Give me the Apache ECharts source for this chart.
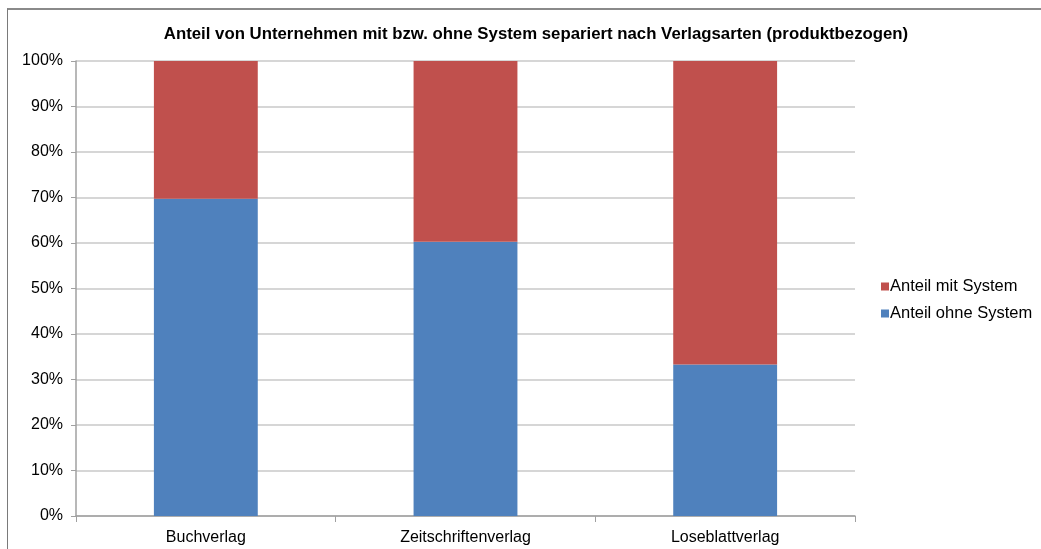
<!DOCTYPE html>
<html>
<head>
<meta charset="utf-8">
<script src="https://cdn.jsdelivr.net/npm/echarts@6/dist/echarts.min.js"></script>
<style>
html,body{margin:0;padding:0;background:#fff;}
#frame{position:absolute;left:7px;top:8px;width:1040px;height:545px;border-top:2px solid #8a8a8a;border-left:1px solid #7a7a7a;}
#chart{position:absolute;left:0;top:0;width:1041px;height:549px;}
</style>
</head>
<body>
<div id="frame"></div>
<div id="chart"></div>
<script>
const categories = ['Buchverlag', 'Zeitschriftenverlag', 'Loseblattverlag'];
const ohneSystem = [69.7, 60.3, 33.3];
const mitSystem = [30.3, 39.7, 66.7];
const seriesNames = ['Anteil ohne System', 'Anteil mit System'];
const titleText = 'Anteil von Unternehmen mit bzw. ohne System separiert nach Verlagsarten (produktbezogen)';

const chart = echarts.init(document.getElementById('chart'), null, {renderer: 'canvas'});
chart.setOption({
  backgroundColor: 'transparent',
  animation: false,
  textStyle: {fontFamily: 'Liberation Sans, Arial, sans-serif'},
  title: {
    text: titleText,
    left: 531, top: 21, textAlign: 'center',
    textStyle: {fontSize: 16.8, fontWeight: 'bold', color: '#000', fontFamily: 'Liberation Sans, Arial'}
  },
  legend: {
    orient: 'vertical',
    left: 876, top: 273,
    itemWidth: 8, itemHeight: 8, itemGap: 10,
    icon: 'rect',
    data: [seriesNames[1], seriesNames[0]],
    textStyle: {fontSize: 16.5, color: '#000', padding: [0, 0, 0, -4]}
  },
  grid: {left: 76, right: 186, top: 61, bottom: 33, containLabel: false},
  xAxis: {
    type: 'category',
    data: categories,
    axisLine: {lineStyle: {color: '#a0a0a0', width: 1.5}},
    axisTick: {show: true, alignWithLabel: false, length: 6, lineStyle: {color: '#a0a0a0'}},
    axisLabel: {fontSize: 16, color: '#000', margin: 14}
  },
  yAxis: {
    type: 'value',
    min: 0, max: 100, interval: 10,
    axisLine: {show: true, lineStyle: {color: '#a0a0a0', width: 1.5}},
    axisTick: {show: true, length: 5, lineStyle: {color: '#a0a0a0'}},
    axisLabel: {fontSize: 16, color: '#000', margin: 13, formatter: '{value}%'},
    splitLine: {lineStyle: {color: '#c8c8c8', width: 1.5}}
  },
  series: [
    {name: seriesNames[0], type: 'bar', stack: 'a', data: ohneSystem, barWidth: '40%',
     itemStyle: {color: '#4f81bd'}},
    {name: seriesNames[1], type: 'bar', stack: 'a', data: mitSystem, barWidth: '40%',
     itemStyle: {color: '#c0504d'}}
  ]
});
</script>
</body>
</html>
